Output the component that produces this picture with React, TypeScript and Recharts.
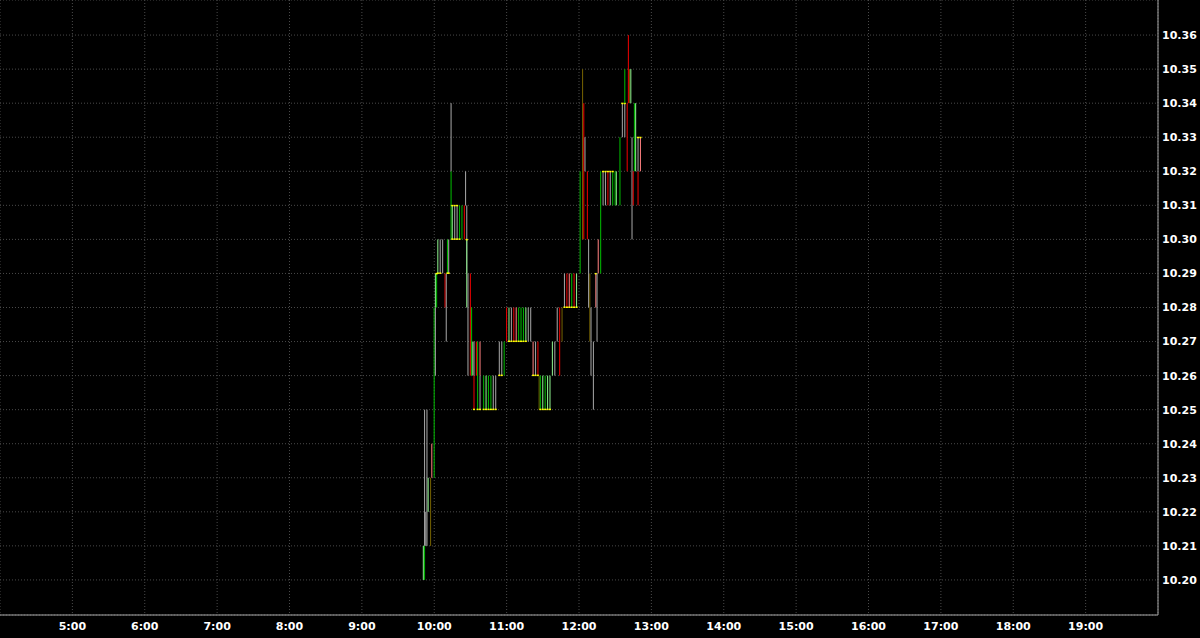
import React from 'react'
import { ComposedChart, Bar, XAxis, YAxis, CartesianGrid } from 'recharts'

// [time, low, high, colour key, yellow mark: t = top edge, b = bottom edge]
type Tick = [string, number, number, string, string?]

const openBars: Tick[] = [
  ['9:51', 10.2, 10.21, 'L'],
  ['9:52', 10.21, 10.25, 'S'],
  ['9:52', 10.2, 10.21, 'G'],
  ['9:53', 10.21, 10.22, 'S'],
  ['9:54', 10.21, 10.25, 'S'],
  ['9:55', 10.22, 10.23, 'L'],
  ['9:57', 10.21, 10.23, 'O'],
  ['9:58', 10.23, 10.24, 'P'],
  ['10:00', 10.23, 10.28, 'G'],
  ['10:01', 10.26, 10.28, 'S'],
  ['10:01', 10.28, 10.29, 'L'],
]

const rallyBars: Tick[] = [
  ['10:02', 10.28, 10.29, 'G', 't'],
  ['10:03', 10.29, 10.3, 'L', 'b'],
  ['10:05', 10.29, 10.3, 'S', 'b'],
  ['10:07', 10.29, 10.3, 'S'],
  ['10:09', 10.28, 10.29, 'R'],
  ['10:10', 10.27, 10.29, 'S'],
  ['10:11', 10.29, 10.3, 'G', 'b'],
  ['10:12', 10.29, 10.3, 'S', 'b'],
  ['10:14', 10.3, 10.32, 'G'],
  ['10:14', 10.32, 10.34, 'S'],
  ['10:15', 10.3, 10.31, 'L', 'tb'],
  ['10:17', 10.3, 10.31, 'S', 'tb'],
  ['10:19', 10.3, 10.31, 'S', 'tb'],
  ['10:21', 10.3, 10.31, 'G', 'b'],
  ['10:23', 10.3, 10.31, 'G'],
  ['10:25', 10.3, 10.31, 'R'],
  ['10:26', 10.31, 10.32, 'S'],
  ['10:27', 10.29, 10.31, 'S'],
  ['10:27', 10.28, 10.3, 'L', 't'],
  ['10:28', 10.26, 10.29, 'S'],
  ['10:30', 10.26, 10.29, 'R'],
]

const dipBars: Tick[] = [
  ['10:31', 10.26, 10.28, 'G'],
  ['10:32', 10.26, 10.27, 'L'],
  ['10:33', 10.26, 10.27, 'S'],
  ['10:33', 10.25, 10.26, 'R', 'b'],
  ['10:35', 10.26, 10.27, 'R'],
  ['10:36', 10.25, 10.27, 'G', 'b'],
  ['10:38', 10.25, 10.26, 'S', 'b'],
  ['10:38', 10.26, 10.27, 'P'],
  ['10:41', 10.25, 10.26, 'G', 'b'],
  ['10:43', 10.25, 10.26, 'L', 'b'],
  ['10:45', 10.25, 10.26, 'G', 'b'],
  ['10:47', 10.25, 10.26, 'G', 'b'],
  ['10:49', 10.25, 10.26, 'S', 'b'],
  ['10:51', 10.25, 10.26, 'S', 'b'],
  ['10:54', 10.26, 10.27, 'S', 'b'],
  ['10:56', 10.26, 10.27, 'S', 'b'],
  ['10:58', 10.26, 10.27, 'G'],
]

const baseBars: Tick[] = [
  ['11:00', 10.27, 10.28, 'R'],
  ['11:02', 10.27, 10.28, 'L', 'b'],
  ['11:04', 10.27, 10.28, 'S', 'b'],
  ['11:06', 10.27, 10.28, 'R', 'b'],
  ['11:08', 10.27, 10.28, 'P', 'b'],
  ['11:10', 10.27, 10.28, 'G', 'b'],
  ['11:12', 10.27, 10.28, 'G', 'b'],
  ['11:14', 10.27, 10.28, 'G', 'b'],
  ['11:16', 10.27, 10.28, 'L', 'b'],
  ['11:18', 10.27, 10.28, 'S'],
  ['11:20', 10.27, 10.28, 'S'],
  ['11:22', 10.26, 10.27, 'P', 'b'],
  ['11:24', 10.26, 10.27, 'S', 'b'],
  ['11:26', 10.26, 10.27, 'R', 'b'],
  ['11:27', 10.25, 10.26, 'O'],
  ['11:28', 10.25, 10.26, 'G', 'b'],
  ['11:30', 10.25, 10.26, 'L', 'b'],
  ['11:32', 10.25, 10.26, 'G', 'b'],
  ['11:34', 10.25, 10.26, 'L', 'b'],
  ['11:36', 10.25, 10.26, 'L', 'b'],
  ['11:38', 10.26, 10.27, 'L'],
  ['11:40', 10.26, 10.27, 'S'],
  ['11:42', 10.27, 10.28, 'S'],
  ['11:44', 10.26, 10.28, 'R'],
  ['11:46', 10.27, 10.28, 'O'],
  ['11:48', 10.28, 10.29, 'S', 'b'],
  ['11:50', 10.28, 10.29, 'R', 'b'],
  ['11:52', 10.28, 10.29, 'P', 'b'],
  ['11:54', 10.28, 10.29, 'G', 'b'],
  ['11:56', 10.28, 10.29, 'R', 'b'],
  ['11:58', 10.28, 10.29, 'L', 'b'],
]

const breakoutBars: Tick[] = [
  ['12:01', 10.29, 10.32, 'G'],
  ['12:03', 10.3, 10.35, 'O'],
  ['12:04', 10.3, 10.34, 'R'],
  ['12:05', 10.32, 10.33, 'S'],
  ['12:07', 10.3, 10.32, 'R'],
  ['12:08', 10.28, 10.3, 'S'],
  ['12:09', 10.27, 10.29, 'O'],
  ['12:10', 10.26, 10.28, 'S'],
  ['12:12', 10.25, 10.27, 'S'],
  ['12:14', 10.28, 10.29, 'P', 't'],
  ['12:15', 10.27, 10.29, 'S'],
  ['12:16', 10.29, 10.3, 'P'],
  ['12:18', 10.29, 10.32, 'G'],
  ['12:20', 10.31, 10.32, 'S', 't'],
  ['12:22', 10.31, 10.32, 'S', 't'],
  ['12:24', 10.31, 10.32, 'R', 't'],
  ['12:26', 10.31, 10.32, 'S', 't'],
  ['12:28', 10.31, 10.32, 'G', 't'],
  ['12:30', 10.31, 10.32, 'G'],
  ['12:31', 10.31, 10.32, 'L'],
  ['12:34', 10.31, 10.33, 'G'],
  ['12:36', 10.33, 10.34, 'S', 't'],
  ['12:38', 10.33, 10.34, 'S', 't'],
  ['12:38', 10.34, 10.35, 'G'],
  ['12:40', 10.32, 10.34, 'R'],
  ['12:41', 10.34, 10.36, 'R'],
  ['12:42', 10.34, 10.35, 'O'],
  ['12:43', 10.34, 10.35, 'L'],
  ['12:44', 10.3, 10.33, 'S'],
  ['12:45', 10.31, 10.32, 'R'],
  ['12:46', 10.32, 10.34, 'G'],
  ['12:47', 10.32, 10.34, 'L'],
  ['12:49', 10.31, 10.32, 'R'],
  ['12:49', 10.32, 10.33, 'S', 't'],
  ['12:51', 10.32, 10.33, 'P', 't'],
]

const hourTicks = [300, 360, 420, 480, 540, 600, 660, 720, 780, 840, 900, 960, 1020, 1080, 1140]
const priceTicks = [
  10.2, 10.21, 10.22, 10.23, 10.24, 10.25, 10.26, 10.27, 10.28,
  10.29, 10.3, 10.31, 10.32, 10.33, 10.34, 10.35, 10.36,
]

const colours: Record<string, string> = {
  G: '#00b000',
  L: '#86e486',
  R: '#e00000',
  P: '#f07878',
  S: '#9c9c9c',
  O: '#6e5c00',
}

const toMinutes = (s: string) => {
  const [h, m] = s.split(':').map(Number)
  return h * 60 + m
}

const data = [...openBars, ...rallyBars, ...dipBars, ...baseBars, ...breakoutBars].map(
  ([t, lo, hi, c, mark]) => ({ t: toMinutes(t), range: [lo, hi], c, mark: mark || '' })
)

const TickBar = (props: any) => {
  const { x, y, width, height, payload } = props
  if (x == null || y == null) return null
  const top = Math.min(y, y + height)
  const h = Math.abs(height)
  return (
    <g>
      <rect x={x} y={top} width={width} height={h} fill={colours[payload.c]} />
      {payload.mark.includes('t') && (
        <rect x={x - 0.5} y={top - 0.5} width={width + 1} height={1.5} fill="#ffff00" />
      )}
      {payload.mark.includes('b') && (
        <rect x={x - 0.5} y={top + h - 1} width={width + 1} height={1.5} fill="#ffff00" />
      )}
    </g>
  )
}

const tickStyle = {
  fill: '#ffffff',
  fontSize: 11,
  fontWeight: 'bold' as const,
  fontFamily: 'DejaVu Sans, sans-serif',
}

export default function App() {
  return (
    <div style={{ position: 'fixed', left: 0, top: 0, width: 1200, height: 638, background: '#000' }}>
      <ComposedChart
        width={1200}
        height={638}
        data={data}
        margin={{ top: 0, right: 0, bottom: 0, left: 0 }}
      >
        <CartesianGrid stroke="#4a4a4a" strokeDasharray="1 2" />
        <XAxis
          dataKey="t"
          type="number"
          domain={[240, 1200]}
          ticks={hourTicks}
          interval={0}
          allowDataOverflow
          height={23}
          tickFormatter={(m) => `${m / 60}:00`}
          axisLine={{ stroke: '#a8a8a8' }}
          tickLine={false}
          tickSize={0}
          tickMargin={7}
          tick={tickStyle}
        />
        <YAxis
          orientation="right"
          type="number"
          domain={[10.1897, 10.3703]}
          ticks={priceTicks}
          interval={0}
          allowDataOverflow
          width={42}
          tickFormatter={(v) => v.toFixed(2)}
          axisLine={{ stroke: '#a8a8a8' }}
          tickLine={false}
          tickSize={0}
          tickMargin={4}
          tick={tickStyle}
        />
        <Bar dataKey="range" barSize={3} shape={TickBar} isAnimationActive={false} />
      </ComposedChart>
    </div>
  )
}
